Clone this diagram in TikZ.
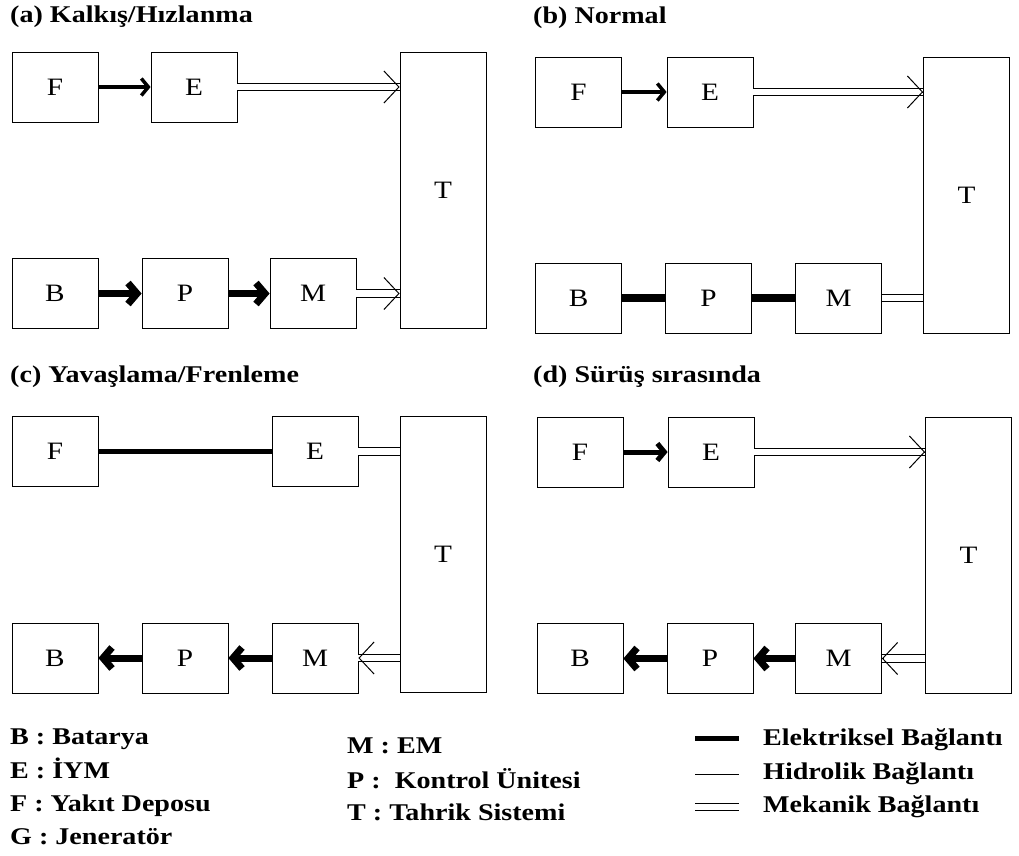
\documentclass[tikz,border=0pt]{standalone}
\usepackage{fontspec}
\setmainfont{Liberation Serif}[FakeStretch=1.17]
\usetikzlibrary{arrows.meta}

\tikzset{
  box/.style={draw, line width=0.8pt, minimum width=86pt, minimum height=70pt,
    inner sep=0pt, font=\fontsize{25}{28}\selectfont},
  tbox/.style={box, minimum height=276pt},
  title/.style={anchor=base west, inner sep=0pt, font=\bfseries\fontsize{24}{28}\selectfont},
  key/.style={anchor=base west, inner sep=0pt, font=\bfseries\fontsize{24}{28}\selectfont},
  fuel/.style={line width=3.5pt, -{Straight Barb[length=7pt,width=17pt]}},
  fuelline/.style={line width=5pt},
  power/.style={line width=7pt, -{Straight Barb[length=9pt,width=21pt]}},
  powline/.style={line width=8pt},
  mech/.style={double, double distance=6.5pt, line width=0.9pt},
  mtip/.style={line width=1pt, -{Straight Barb[length=15pt,width=32pt]}}
}

\begin{document}
\begin{tikzpicture}[x=1pt, y=-1pt]
\useasboundingbox (0,0) rectangle (1019,855);

% (a)
\node[title] (atitle) at (10,22) {(a) Kalkış/Hızlanma};
\node[box] (aF) at (55,87) {F};
\node[box] (aE) at (194,87) {E};
\node[tbox] (aT) at (443,190) {T};
\node[box] (aB) at (55,293.5) {B};
\node[box] (aP) at (185,293.5) {P};
\node[box] (aM) at (313,293.5) {M};
\coordinate (aET) at (aE.east -| aT.west);
\coordinate (aMT) at (aM.east -| aT.west);
\draw[fuel] (aF) -- (aE);
\draw[mech] (aE.east) -- (aET);
\draw[mtip] ([xshift=-1pt]aET) -- (aET);
\draw[power] (aB) -- (aP);
\draw[power] (aP) -- (aM);
\draw[mech] (aM.east) -- (aMT);
\draw[mtip] ([xshift=-1pt]aMT) -- (aMT);

% (b)
\node[title] (btitle) at (533,23) {(b) Normal};
\node[box] (bF) at (578.5,92) {F};
\node[box] (bE) at (710,92) {E};
\node[tbox] (bT) at (966.5,195) {T};
\node[box] (bB) at (578.5,298) {B};
\node[box] (bP) at (708.5,298) {P};
\node[box] (bM) at (838.5,298) {M};
\coordinate (bET) at (bE.east -| bT.west);
\draw[fuel] (bF) -- (bE);
\draw[mech] (bE.east) -- (bET);
\draw[mtip] ([xshift=-1pt]bET) -- (bET);
\draw[powline] (bB) -- (bP);
\draw[powline] (bP) -- (bM);
\draw[mech] (bM.east) -- (bM.east -| bT.west);

% (c)
\node[title] (ctitle) at (10,382) {(c) Yavaşlama/Frenleme};
\node[box] (cF) at (55,451.5) {F};
\node[box] (cE) at (315,451.5) {E};
\node[tbox] (cT) at (443,554.5) {T};
\node[box] (cB) at (55,658) {B};
\node[box] (cP) at (185,658) {P};
\node[box] (cM) at (315,658) {M};
\draw[fuelline] (cF) -- (cE);
\draw[mech] (cE.east) -- (cE.east -| cT.west);
\draw[mech] (cM.east -| cT.west) -- (cM.east);
\draw[mtip] ([xshift=1pt]cM.east) -- (cM.east);
\draw[power] (cM) -- (cP);
\draw[power] (cP) -- (cB);

% (d)
\node[title] (dtitle) at (533,382) {(d) Sürüş sırasında};
\node[box] (dF) at (580,452) {F};
\node[box] (dE) at (711,452) {E};
\node[tbox] (dT) at (968.5,555) {T};
\node[box] (dB) at (580,658.5) {B};
\node[box] (dP) at (710,658.5) {P};
\node[box] (dM) at (838.5,658.5) {M};
\coordinate (dET) at (dE.east -| dT.west);
\draw[fuel, line width=5pt] (dF) -- (dE);
\draw[mech] (dE.east) -- (dET);
\draw[mtip] ([xshift=-1pt]dET) -- (dET);
\draw[mech] (dM.east -| dT.west) -- (dM.east);
\draw[mtip] ([xshift=1pt]dM.east) -- (dM.east);
\draw[power] (dM) -- (dP);
\draw[power] (dP) -- (dB);

% legend
\node[key] (keyB) at (10,744) {B : Batarya};
\node[key] (keyE) at (10,778) {E : İYM};
\node[key] (keyF) at (10,811) {F : Yakıt Deposu};
\node[key] (keyG) at (10,844) {G : Jeneratör};
\node[key] (keyM) at (347,753) {M : EM};
\node[key] (keyP) at (347,788) {P :~ Kontrol Ünitesi};
\node[key] (keyT) at (347,820) {T : Tahrik Sistemi};
\coordinate (elA) at (695,738);
\coordinate (elB) at (739,738);
\coordinate (hyA) at (695,774);
\coordinate (hyB) at (739,774);
\coordinate (meA) at (695,807);
\coordinate (meB) at (739,807);
\draw[line width=5pt] (elA) -- (elB);
\draw[line width=1pt] (hyA) -- (hyB);
\draw[mech] (meA) -- (meB);
\node[key] (keyel) at (763,745) {Elektriksel Bağlantı};
\node[key] (keyhy) at (763,779) {Hidrolik Bağlantı};
\node[key] (keyme) at (763,812) {Mekanik Bağlantı};
\end{tikzpicture}
\end{document}
